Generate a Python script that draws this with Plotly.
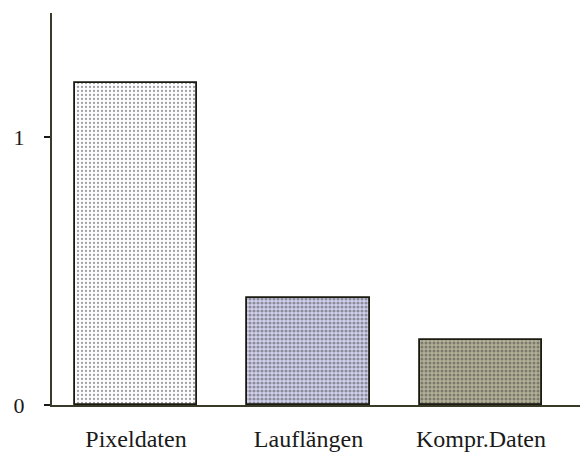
import plotly.graph_objects as go

categories = ["Pixeldaten", "Lauflängen", "Kompr.Daten"]
values = [1.2, 0.40, 0.243]
y_tick_vals = [0, 1]
y_tick_text = ["0", "1"]

bg_colors = ["#fdfdff", "#d2d2f0", "#b2b096"]
fg_colors = ["#b0b0f4", "#c2c09a", "#b0b0ec"]
solidities = [0.25, 0.5, 0.45]

fig = go.Figure()
fig.add_trace(go.Bar(
    x=list(range(len(categories))),
    y=values,
    width=0.71,
    marker=dict(
        color=bg_colors,
        line=dict(color="#1a1a10", width=1.8),
        pattern=dict(shape=".", fgcolor=fg_colors, bgcolor=bg_colors,
                     size=4, solidity=solidities, fillmode="overlay"),
    ),
    showlegend=False,
))

font_serif = "Liberation Serif, Times New Roman, serif"
fig.update_layout(
    width=583, height=453,
    margin=dict(l=52, r=3, t=13, b=48),
    paper_bgcolor="white", plot_bgcolor="white",
    bargap=0,
    xaxis=dict(
        range=[-0.487, 2.574],
        tickvals=list(range(len(categories))),
        ticktext=categories,
        showgrid=False, zeroline=False, automargin=False,
        showline=True, linecolor="#3a3a28", linewidth=2,
        ticks="", ticklabelstandoff=11,
        tickfont=dict(family=font_serif, size=24, color="#1a1a1a"),
    ),
    yaxis=dict(
        range=[0, 1.463],
        tickvals=y_tick_vals, ticktext=y_tick_text,
        showgrid=False, zeroline=False, automargin=False,
        showline=True, linecolor="#3a3a28", linewidth=2,
        ticks="outside", ticklen=6, tickwidth=2, tickcolor="#1a1a1a",
        ticklabelstandoff=15,
        tickfont=dict(family=font_serif, size=22, color="#1a1a1a"),
    ),
)

fig.write_html("out.html", config={"displayModeBar": False},
               post_script="document.body.style.margin='0px';document.body.style.overflow='hidden';")
